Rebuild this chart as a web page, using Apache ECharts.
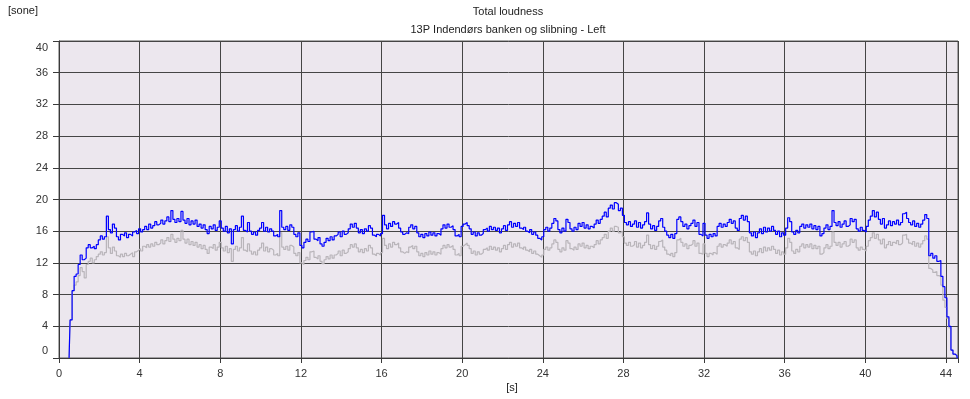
<!doctype html>
<html>
<head>
<meta charset="UTF-8">
<script src="https://cdn.jsdelivr.net/npm/echarts@6/dist/echarts.min.js"></script>
<style>
  html, body { margin: 0; padding: 0; background: #fff; }
  #total { width: 970px; height: 399px; }
</style>
</head>
<body>
<div id="total"></div>
<script type="text/javascript">
    // time axis: samples every 0.1 s, first sample at 0.5 s
    var tStart = 0.5;
    var tStep = 0.1;
    var xTicks = [0, 4, 8, 12, 16, 20, 24, 28, 32, 36, 40, 44];
    var yTicks = [0, 4, 8, 12, 16, 20, 24, 28, 32, 36, 40];

    // upper curve (blue)
    var blueValues = [
        0.0, 4.8, 8.5, 10.3, 10.6,
        11.8, 13.0, 12.4, 12.6, 13.9, 14.3, 13.9, 14.1, 13.8, 14.3,
        14.9, 15.4, 15.0, 15.3, 17.9, 16.2, 15.8, 16.9, 16.4, 15.3,
        14.9, 15.6, 15.4, 15.8, 15.2, 15.6, 15.4, 15.9, 16.1, 15.7,
        16.3, 15.9, 16.2, 16.6, 16.2, 16.9, 16.4, 16.7, 17.2, 16.8,
        17.0, 17.4, 16.9, 17.3, 17.8, 17.2, 18.6, 17.5, 17.1, 17.6,
        17.2, 18.5, 17.4, 17.0, 17.6, 16.8, 17.3, 16.9, 17.4, 16.6,
        16.9, 16.4, 16.8, 16.2, 15.7, 16.6, 16.3, 16.8, 16.1, 16.5,
        17.3, 16.4, 16.0, 16.6, 15.8, 16.3, 14.4, 16.2, 16.7, 16.0,
        16.5, 17.9, 16.1, 15.9, 17.1, 16.0, 15.6, 15.9, 15.5, 16.1,
        16.4, 17.1, 16.0, 16.5, 15.9, 16.3, 16.0, 15.4, 15.6, 15.3,
        18.6, 16.5, 16.2, 16.6, 16.1, 16.8, 16.5, 15.6, 15.3, 15.8,
        14.2, 13.9, 14.6, 15.0, 14.7, 15.9, 16.0, 15.0, 14.8, 15.2,
        14.4, 14.1, 14.6, 15.1, 14.8, 15.3, 14.9, 15.4, 15.6, 15.9,
        15.3, 16.0, 15.6, 15.8, 16.3, 16.9, 16.5, 17.0, 16.4, 15.8,
        16.2, 15.7, 16.3, 16.0, 16.7, 16.4, 15.5, 15.3, 15.6, 15.4,
        15.7, 18.0, 16.8, 16.3, 17.0, 16.6, 17.2, 16.9, 17.1, 16.4,
        15.9, 15.6, 15.8, 15.7, 16.5, 16.8, 16.3, 16.6, 15.8, 15.3,
        15.6, 15.2, 15.7, 15.4, 15.9, 15.5, 15.8, 15.4, 15.7, 15.5,
        16.3, 16.8, 16.4, 16.9, 16.5, 16.7, 16.2, 15.4, 15.6, 15.3,
        16.6, 16.9, 17.1, 16.7, 16.3, 15.6, 15.9, 15.4, 15.8, 15.5,
        15.7, 16.2, 16.4, 16.0, 16.6, 16.2, 16.5, 16.1, 16.4, 15.8,
        16.3, 16.7, 16.1, 16.8, 17.2, 16.5, 17.0, 16.6, 17.1, 16.4,
        16.2, 16.5, 16.0, 15.8, 16.2, 15.6, 15.9, 15.5, 15.1, 14.9,
        15.3, 16.2, 16.5, 16.0, 16.4, 17.0, 17.6, 17.3, 16.2, 15.8,
        16.4, 16.0, 17.5, 17.1, 16.3, 16.0, 16.5, 16.2, 17.0, 16.6,
        17.1, 16.4, 16.8, 16.3, 16.6, 16.4, 16.9, 17.4, 17.0, 17.5,
        17.9, 18.4, 17.8, 18.9, 19.3, 18.8, 19.6, 19.4, 18.6, 18.9,
        18.0, 17.1, 16.8, 17.2, 16.6, 16.9, 17.3, 16.5, 17.1, 16.4,
        16.8, 17.2, 18.3, 16.9, 16.3, 16.7, 16.1, 16.6, 17.3, 17.6,
        16.5, 16.0, 15.5, 15.2, 15.6, 15.1, 15.7, 17.5, 17.8, 17.2,
        16.6, 16.9, 16.3, 16.7, 17.0, 17.4, 16.6, 17.1, 15.6, 15.4,
        17.0, 15.5, 15.1, 15.6, 15.3, 15.7, 15.4, 16.6, 17.0, 16.5,
        16.9, 16.6, 17.1, 17.5, 17.0, 17.3, 16.4, 16.1, 17.6, 18.0,
        17.4, 17.9, 17.2, 15.8, 15.4, 15.9, 15.2, 15.8, 16.3, 15.7,
        16.5, 15.9, 16.4, 16.0, 16.6, 16.1, 15.6, 16.0, 15.3, 15.8,
        15.5, 16.4, 17.7, 17.2, 15.9, 15.6, 16.1, 15.8, 16.6, 16.9,
        16.4, 16.8, 16.5, 16.9, 16.3, 16.7, 16.2, 16.6, 15.4, 15.7,
        16.4, 16.8, 16.2, 16.6, 18.6, 17.1, 16.7, 17.2, 16.5, 16.9,
        17.3, 16.6, 16.8, 17.6, 17.2, 17.5, 16.3, 16.0, 16.5, 16.1,
        15.9, 16.6, 17.4, 17.9, 18.6, 17.8, 18.4, 17.5, 16.9, 17.6,
        16.4, 16.8, 17.3, 16.7, 17.2, 16.9, 17.4, 16.8, 17.1, 18.2,
        18.4, 17.6, 17.1, 16.8, 17.3, 16.6, 17.0, 16.5, 16.9, 17.4,
        18.1, 17.6, 12.9, 13.2, 12.6, 12.9, 12.2, 12.3, 10.3, 9.0,
        7.6, 5.2, 4.0, 1.0, 0.5, 0.3, 0.0
    ];

    // lower curve (grey)
    var greyValues = [
        0.0, 4.8, 8.5, 9.2, 9.6,
        10.4, 11.4, 10.9, 10.1, 11.8, 12.2, 12.6, 12.0, 12.4, 12.8,
        13.1, 13.4, 13.0, 13.3, 15.3, 13.9, 13.2, 14.0, 13.5, 12.9,
        12.7, 13.1, 12.8, 13.2, 12.9, 13.1, 13.3, 12.8, 13.4, 13.6,
        13.8, 13.5, 14.1, 13.9, 14.3, 14.0, 14.4, 14.1, 14.6, 14.3,
        14.5, 14.9, 14.4, 14.8, 15.2, 14.7, 15.6, 15.0, 14.6, 15.1,
        14.8, 16.1, 15.0, 14.5, 15.0, 14.3, 14.7, 14.2, 14.6, 14.0,
        14.3, 13.8, 14.2, 13.7, 13.2, 14.0, 13.8, 14.3, 13.6, 14.0,
        14.6, 13.9, 13.5, 14.1, 13.3, 13.8, 12.2, 13.7, 14.1, 13.5,
        13.9, 15.2, 13.6, 13.4, 14.4, 13.5, 13.1, 13.4, 13.0, 13.6,
        13.9, 14.5, 13.5, 14.0, 13.4, 13.8, 13.6, 13.0, 13.2, 12.9,
        15.8, 14.0, 13.7, 14.1, 13.6, 14.2, 14.0, 13.2, 12.9, 13.3,
        12.0, 11.8, 12.3, 12.7, 12.4, 13.4, 13.5, 12.7, 12.5, 12.9,
        12.2, 11.9, 12.4, 12.8, 12.5, 13.0, 12.6, 13.0, 13.2, 13.5,
        12.9, 13.6, 13.2, 13.4, 13.8, 14.3, 14.0, 14.4, 13.9, 13.4,
        13.7, 13.3, 13.8, 13.5, 14.2, 13.9, 13.1, 12.9, 13.2, 13.0,
        13.3, 15.1, 14.2, 13.8, 14.4, 14.0, 14.6, 14.3, 14.5, 13.9,
        13.4, 13.2, 13.4, 13.3, 14.0, 14.2, 13.8, 14.1, 13.4, 12.9,
        13.2, 12.8, 13.3, 13.0, 13.5, 13.1, 13.4, 13.0, 13.3, 13.1,
        13.8, 14.2, 13.9, 14.3, 14.0, 14.2, 13.7, 13.0, 13.2, 12.9,
        14.1, 14.3, 14.5, 14.2, 13.8, 13.2, 13.5, 13.0, 13.4, 13.1,
        13.3, 13.7, 13.9, 13.6, 14.1, 13.7, 14.0, 13.6, 13.9, 13.4,
        13.8, 14.2, 13.7, 14.3, 14.6, 14.0, 14.4, 14.1, 14.5, 13.9,
        13.7, 14.0, 13.6, 13.4, 13.7, 13.2, 13.5, 13.1, 12.9, 12.7,
        13.0, 13.7, 14.0, 13.6, 13.9, 14.4, 14.9, 14.6, 13.7, 13.4,
        13.9, 13.6, 14.8, 14.5, 13.8, 13.6, 14.0, 13.7, 14.4, 14.1,
        14.5, 13.9, 14.2, 13.8, 14.1, 13.9, 14.3, 14.8, 14.4, 14.9,
        15.2, 15.6, 15.1, 16.0, 16.4, 16.0, 16.6, 16.5, 15.8, 16.0,
        15.3, 14.5, 14.2, 14.6, 14.1, 14.3, 14.7, 14.0, 14.5, 13.9,
        14.2, 14.6, 15.5, 14.3, 13.8, 14.2, 13.7, 14.1, 14.7, 14.9,
        14.0, 13.6, 13.1, 12.9, 13.2, 12.8, 13.3, 14.9, 15.1, 14.6,
        14.1, 14.4, 13.8, 14.2, 14.4, 14.8, 14.1, 14.5, 13.2, 13.1,
        14.4, 13.2, 12.8, 13.2, 13.0, 13.3, 13.1, 14.1, 14.4, 14.0,
        14.3, 14.1, 14.5, 14.9, 14.4, 14.7, 13.9, 13.7, 15.0, 15.3,
        14.8, 15.2, 14.6, 13.4, 13.1, 13.5, 12.9, 13.4, 13.8, 13.3,
        14.0, 13.5, 13.9, 13.6, 14.1, 13.7, 13.2, 13.6, 13.0, 13.4,
        13.1, 13.9, 15.1, 14.6, 13.5, 13.2, 13.7, 13.4, 14.1, 14.4,
        13.9, 14.3, 14.0, 14.4, 13.8, 14.2, 13.8, 14.1, 13.1, 13.3,
        13.9, 14.3, 13.8, 14.1, 15.9, 14.6, 14.2, 14.6, 14.0, 14.4,
        14.7, 14.1, 14.3, 15.0, 14.6, 14.9, 13.9, 13.6, 14.0, 13.7,
        13.5, 14.1, 14.8, 15.2, 15.8, 15.1, 15.6, 14.9, 14.4, 15.0,
        13.9, 14.3, 14.7, 14.2, 14.6, 14.4, 14.8, 14.3, 14.5, 15.5,
        15.6, 15.0, 14.5, 14.3, 14.7, 14.1, 14.5, 14.0, 14.4, 14.8,
        15.4, 15.0, 11.3, 11.1, 10.8, 10.9, 10.4, 10.3, 9.2, 7.3,
        6.4, 5.0, 3.8, 1.0, 0.5, 0.3, 0.0
    ];

    function toPairs(values) {
        return values.map(function (v, i) {
            return [+(tStart + i * tStep).toFixed(2), v];
        });
    }

    var font = '"Liberation Sans", Arial, sans-serif';
    var myCharts = echarts.init(document.getElementById('total'), null, { renderer: 'canvas' });

    var options = {
        animation: false,
        backgroundColor: '#ffffff',
        textStyle: { fontFamily: font },
        graphic: [
            { type: 'text', left: 8, top: 5, style: { text: '[sone]', font: '11px ' + font, fill: '#222' } },
            { type: 'text', x: 508, y: 6, style: { text: 'Total loudness', font: '11px ' + font, fill: '#222', textAlign: 'center' } },
            { type: 'text', x: 508, y: 24, style: { text: '13P Indendørs banken og slibning - Left', font: '11px ' + font, fill: '#222', textAlign: 'center' } },
            { type: 'text', x: 512, y: 382, style: { text: '[s]', font: '11px ' + font, fill: '#222', textAlign: 'center' } }
        ],
        grid: {
            left: 59,
            right: 12,
            top: 41,
            bottom: 41,
            show: true,
            backgroundColor: '#ece7ee',
            borderColor: '#5a5a5a',
            borderWidth: 1
        },
        xAxis: {
            type: 'value',
            min: 0,
            max: 44.6,
            interval: 4,
            axisLine: { lineStyle: { color: '#3a3a3a' } },
            axisTick: { show: true, length: 5, lineStyle: { color: '#3a3a3a' } },
            axisLabel: {
                color: '#333', fontSize: 11, fontFamily: font, margin: 10,
                formatter: function (v) { return xTicks.indexOf(v) >= 0 ? String(v) : ''; }
            },
            splitLine: { show: true, lineStyle: { color: '#454545', width: 1 } }
        },
        yAxis: {
            type: 'value',
            min: 0,
            max: 40,
            interval: 4,
            axisLine: { show: true, lineStyle: { color: '#3a3a3a' } },
            axisTick: { show: true, length: 6, lineStyle: { color: '#3a3a3a' } },
            axisLabel: {
                color: '#333', fontSize: 11, fontFamily: font, margin: 11,
                formatter: function (v) {
                    if (yTicks.indexOf(v) < 0) return '';
                    if (v === 40) return '{top|40}';
                    if (v === 0) return '{bot|0}';
                    return String(v);
                },
                rich: {
                    top: { fontSize: 11, fontFamily: font, color: '#333', padding: [14, 0, 0, 0] },
                    bot: { fontSize: 11, fontFamily: font, color: '#333', padding: [0, 0, 14, 0] }
                }
            },
            splitLine: { show: true, lineStyle: { color: '#454545', width: 1 } }
        },
        series: [
            {
                name: 'grey',
                type: 'line',
                step: 'middle',
                showSymbol: false,
                data: toPairs(greyValues),
                lineStyle: { color: '#b9b5ba', width: 1.2 },
                itemStyle: { color: '#b9b5ba' },
                z: 2
            },
            {
                name: 'blue',
                type: 'line',
                step: 'middle',
                showSymbol: false,
                data: toPairs(blueValues),
                lineStyle: { color: '#0000ff', width: 1.2 },
                itemStyle: { color: '#0000ff' },
                z: 3
            }
        ]
    };

    myCharts.setOption(options);
</script>
</body>
</html>
